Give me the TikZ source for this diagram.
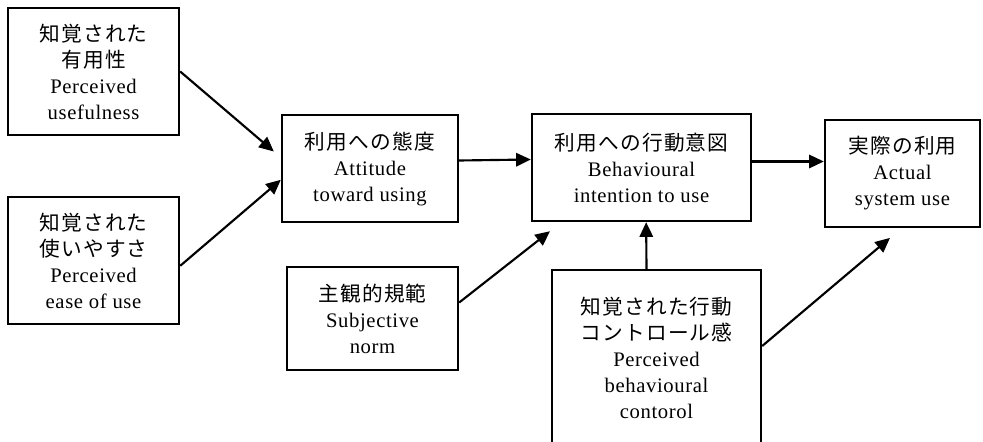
\documentclass[tikz,border=0pt]{standalone}
\usepackage{fontspec}
\setmainfont{Liberation Serif}[LetterSpace=3]
\newfontfamily\jp{Noto Sans CJK JP}[LetterSpace=6]
\usetikzlibrary{arrows.meta}
\tikzset{
  box/.style={draw, line width=1.8pt, align=center, inner sep=0pt,
    font=\fontsize{15.5}{19.5}\selectfont},
  arr/.style={line width=1.6pt, -{Triangle[length=11pt,width=10pt]}}
}
\begin{document}
\begin{tikzpicture}[x=0.75pt,y=-0.75pt]
\useasboundingbox[fill=white] (0,0) rectangle (983,442);
\clip (0,0) rectangle (983,442);
% left column
\node[box, minimum width=128.25pt, minimum height=95.25pt] (pu) at (93.5,71.5) {{\jp 知覚された}\\{\jp 有用性}\\Perceived\\usefulness};
\node[box, minimum width=128.25pt, minimum height=95.25pt] (peou) at (93.5,260.5) {{\jp 知覚された}\\{\jp 使いやすさ}\\Perceived\\ease of use};
% middle
\node[box, minimum width=132pt, minimum height=80.25pt] (atu) at (370,168.5) {{\jp 利用への態度}\\Attitude\\toward using};
\node[box, minimum width=128.25pt, minimum height=77.25pt] (sn) at (372.5,318.5) {{\jp 主観的規範}\\Subjective\\norm};
\node[box, minimum width=164.25pt, minimum height=80.25pt] (bi) at (641.5,167.5) {{\jp 利用への行動意図}\\Behavioural\\intention to use};
\node[box, minimum width=156.75pt, minimum height=132pt] (pbc) at (656.5,358) {{\jp 知覚された行動}\\{\jp コントロール感}\\Perceived\\behavioural\\contorol};
% right
\node[box, minimum width=116.25pt, minimum height=80.25pt] (au) at (902.5,173.5) {{\jp 実際の利用}\\Actual\\system use};
% arrows
\draw[arr] (pu.east) -- ([xshift=-5.25pt,yshift=12.75pt]atu.west);
\draw[arr] ([yshift=-4pt]peou.east) -- ([yshift=-8.5pt]atu.west);
\draw[arr] ([yshift=6pt]atu.east) -- ([yshift=6pt]bi.west);
\draw[arr] ([yshift=4.5pt]bi.east) -- ([yshift=9pt]au.west);
\draw[arr] ([yshift=12pt]sn.east) -- ([xshift=-68.6pt,yshift=-6.75pt]bi.south);
\draw[arr] ([xshift=-7.5pt]pbc.north) -- ([xshift=3.5pt]bi.south);
\draw[arr] ([yshift=9pt]pbc.east) -- ([xshift=-9.4pt,yshift=-7.3pt]au.south);
\end{tikzpicture}
\end{document}
